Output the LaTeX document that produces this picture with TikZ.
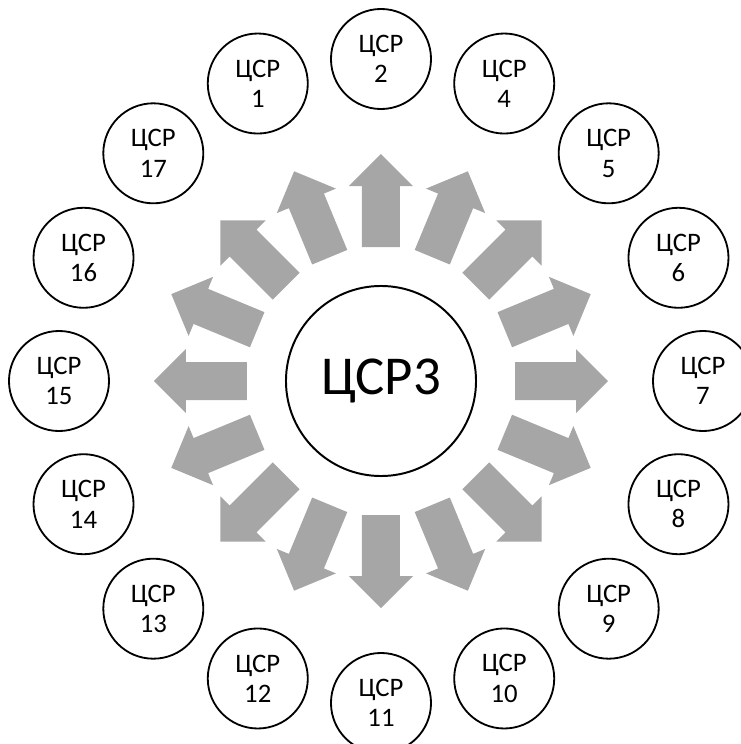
\documentclass[tikz,border=0pt]{standalone}
\usepackage{fontspec}
\setmainfont{Carlito}
\usepackage{tikz}
\usetikzlibrary{calc}
\definecolor{arrowgray}{RGB}{166,166,166}
\tikzset{
  csr/.style={circle,draw,line width=1.3pt,minimum size=2.5cm,inner sep=0pt,
    align=center,font=\fontsize{19}{21.5}\selectfont},
  hub/.style={circle,draw,line width=1.4pt,minimum size=4.75cm,inner sep=0pt,
    font=\fontsize{39}{44}\selectfont},
  blockarrow/.style={fill=arrowgray}
}

\begin{document}
\begin{tikzpicture}[x=0.025cm,y=0.025cm]
    \useasboundingbox (-381,-363) rectangle (360,381);

    \node [hub] (c) at (0,0) {ЦСР3};

    % arrows and outer circles, clockwise from the top
    \foreach \n [count=\i from 0] in {2,4,5,6,7,8,9,10,11,12,13,14,15,16,17,1} {
      \fill [blockarrow,rotate=90-22.5*\i]
        (134,-19) -- (195,-19) -- (195,-32) -- (227,0) -- (195,32) -- (195,19) -- (134,19) -- cycle;
      \node [csr] (csr\n) at (90-22.5*\i:322) {ЦСР\\\n};
    }
\end{tikzpicture}
\end{document}
